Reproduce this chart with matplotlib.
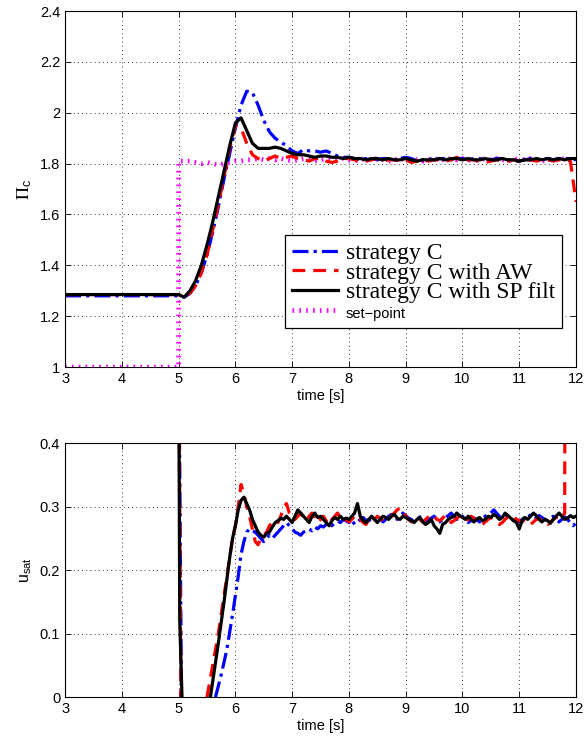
import numpy as np
import matplotlib.pyplot as plt
from matplotlib.lines import Line2D

plt.rcParams['font.family'] = ['Liberation Sans', 'DejaVu Sans']
plt.rcParams['mathtext.fontset'] = 'stix'

# ---------------- top panel: Pi_c ----------------
t_top = np.round(np.concatenate([[3.0, 3.5, 4.0, 4.5], np.arange(5.0, 12.001, 0.1)]), 2)

pi_c = [1.28, 1.28, 1.28, 1.28,
        1.28, 1.275, 1.29, 1.32, 1.37, 1.44, 1.53, 1.63, 1.74, 1.84,
        1.94, 2.03, 2.085, 2.08, 2.03, 1.97, 1.925, 1.90, 1.885, 1.87,
        1.85, 1.84, 1.855, 1.85, 1.85, 1.845, 1.85, 1.84, 1.83, 1.825,
        1.825, 1.82, 1.815, 1.82, 1.82, 1.815, 1.82, 1.82, 1.815, 1.82,
        1.825, 1.82, 1.81, 1.815, 1.82, 1.815, 1.82, 1.82, 1.815, 1.82,
        1.82, 1.815, 1.82, 1.82, 1.815, 1.815, 1.82, 1.82, 1.815, 1.81,
        1.81, 1.815, 1.82, 1.815, 1.82, 1.82, 1.815, 1.82, 1.82, 1.82,
        1.815]

pi_c_aw = [1.285, 1.285, 1.285, 1.285,
           1.285, 1.275, 1.29, 1.32, 1.37, 1.44, 1.54, 1.64, 1.75, 1.86,
           1.95, 1.94, 1.88, 1.835, 1.82, 1.81, 1.82, 1.83, 1.82, 1.825,
           1.83, 1.82, 1.815, 1.81, 1.82, 1.82, 1.81, 1.805, 1.81, 1.82,
           1.82, 1.815, 1.81, 1.81, 1.815, 1.82, 1.81, 1.815, 1.815, 1.81,
           1.815, 1.805, 1.81, 1.815, 1.81, 1.815, 1.815, 1.81, 1.815, 1.825,
           1.82, 1.815, 1.815, 1.81, 1.805, 1.81, 1.815, 1.81, 1.81, 1.815,
           1.81, 1.815, 1.815, 1.81, 1.815, 1.815, 1.81, 1.815, 1.815, 1.81,
           1.65]

pi_c_sp = [1.285, 1.285, 1.285, 1.285,
           1.285, 1.275, 1.30, 1.34, 1.40, 1.48, 1.57, 1.67, 1.77, 1.87,
           1.96, 1.98, 1.93, 1.88, 1.86, 1.86, 1.86, 1.865, 1.86, 1.85,
           1.84, 1.835, 1.835, 1.83, 1.825, 1.83, 1.83, 1.825, 1.825, 1.82,
           1.825, 1.82, 1.82, 1.815, 1.82, 1.82, 1.815, 1.82, 1.815, 1.815,
           1.82, 1.815, 1.81, 1.815, 1.815, 1.815, 1.82, 1.815, 1.82, 1.82,
           1.815, 1.82, 1.815, 1.815, 1.82, 1.815, 1.815, 1.82, 1.815, 1.815,
           1.81, 1.815, 1.815, 1.82, 1.815, 1.82, 1.815, 1.82, 1.815, 1.82,
           1.82]

t_set = np.round(np.concatenate([[3.0, 5.0, 5.0], np.arange(5.1, 12.001, 0.1)]), 2)
setpoint = [1.0, 1.0, 1.81,
            1.81, 1.81, 1.805, 1.80, 1.805, 1.80, 1.795, 1.80, 1.805, 1.81,
            1.81, 1.815, 1.815, 1.82, 1.815, 1.82, 1.815, 1.82, 1.815, 1.81,
            1.815, 1.82, 1.815, 1.81, 1.815, 1.82, 1.815, 1.815, 1.82, 1.815,
            1.81, 1.815, 1.82, 1.815, 1.82, 1.815, 1.81, 1.815, 1.82, 1.815,
            1.82, 1.815, 1.81, 1.815, 1.82, 1.815, 1.815, 1.82, 1.815, 1.82,
            1.815, 1.81, 1.815, 1.82, 1.815, 1.82, 1.815, 1.81, 1.815, 1.82,
            1.815, 1.82, 1.815, 1.81, 1.815, 1.82, 1.815, 1.82, 1.815, 1.815]

# ---------------- bottom panel: u_sat ----------------
# nan marks the stretches that sit on the lower limit and are not seen
t_grid = np.round(np.arange(6.0, 12.001, 0.05), 2)

t_u_pre = [4.99, 5.0, 5.05, 5.3, 5.65, 5.75, 5.85, 5.95]
u_pre = [0.6, 0.6, 0, np.nan, 0, 0.035, 0.075, 0.13]
u_c = [0.16, 0.19, 0.225, 0.245, 0.26, 0.265, 0.262, 0.26, 0.255, 0.25, 0.245, 0.25, 0.255, 0.25, 0.255, 0.26, 0.265, 0.27, 0.275, 0.27,
       0.265, 0.26, 0.258, 0.255, 0.26, 0.262, 0.265, 0.262, 0.268, 0.265, 0.27, 0.268, 0.272, 0.275, 0.27, 0.275, 0.278, 0.275, 0.28, 0.278,
       0.275, 0.28, 0.272, 0.276, 0.28, 0.283, 0.278, 0.28, 0.276, 0.28, 0.284, 0.282, 0.276, 0.28, 0.285, 0.288, 0.283, 0.28, 0.285, 0.29,
       0.286, 0.282, 0.28, 0.276, 0.28, 0.284, 0.278, 0.275, 0.28, 0.282, 0.285, 0.28, 0.276, 0.28, 0.283, 0.286, 0.29, 0.285, 0.28, 0.283,
       0.285, 0.28, 0.275, 0.278, 0.282, 0.28, 0.276, 0.28, 0.285, 0.288, 0.29, 0.295, 0.29, 0.285, 0.28, 0.283, 0.286, 0.282, 0.278, 0.28,
       0.276, 0.28, 0.283, 0.288, 0.285, 0.28, 0.282, 0.286, 0.283, 0.28, 0.278, 0.282, 0.285, 0.28, 0.276, 0.28, 0.284, 0.28, 0.275, 0.27,
       0.275]

t_aw_pre = [4.99, 5.0, 5.04, 5.3, 5.5, 5.6, 5.7, 5.8, 5.9, 5.95]
u_aw_pre = [0.6, 0.6, 0, np.nan, 0, 0.05, 0.1, 0.16, 0.22, 0.25]
u_aw = [0.27, 0.30, 0.335, 0.32, 0.30, 0.285, 0.265, 0.245, 0.24, 0.25, 0.255, 0.26, 0.27, 0.275, 0.28, 0.275, 0.285, 0.30, 0.305, 0.29,
        0.285, 0.28, 0.285, 0.29, 0.282, 0.278, 0.285, 0.29, 0.283, 0.275, 0.28, 0.285, 0.278, 0.272, 0.28, 0.285, 0.29, 0.282, 0.278, 0.28,
        0.276, 0.28, 0.285, 0.278, 0.28, 0.275, 0.272, 0.28, 0.284, 0.28, 0.285, 0.282, 0.278, 0.28, 0.283, 0.286, 0.29, 0.295, 0.298, 0.29,
        0.285, 0.28, 0.276, 0.28, 0.283, 0.28, 0.276, 0.28, 0.284, 0.288, 0.285, 0.28, 0.278, 0.282, 0.286, 0.28, 0.275, 0.278, 0.282, 0.285,
        0.282, 0.278, 0.28, 0.285, 0.282, 0.278, 0.275, 0.272, 0.276, 0.28, 0.283, 0.28, 0.276, 0.272, 0.275, 0.28, 0.284, 0.282, 0.285, 0.28,
        0.278, 0.276, 0.28, 0.275, 0.272, 0.276, 0.28, 0.282, 0.278, 0.275, 0.272, 0.276, 0.28, 0.283, 0.285, 0.282, 0.29]
t_aw_post = [11.81, 12.0]
u_aw_post = [0.8, 0.8]

t_sp_pre = [4.99, 5.0, 5.02, 5.06, 5.3, 5.56, 5.7, 5.8, 5.9, 5.95]
u_sp_pre = [0.6, 0.6, 0.12, 0, np.nan, 0, 0.085, 0.15, 0.22, 0.25]
u_sp = [0.27, 0.295, 0.31, 0.315, 0.305, 0.295, 0.28, 0.27, 0.26, 0.255, 0.252, 0.258, 0.26, 0.268, 0.275, 0.278, 0.282, 0.28, 0.285, 0.28,
        0.275, 0.285, 0.295, 0.29, 0.285, 0.28, 0.275, 0.285, 0.29, 0.283, 0.285, 0.28, 0.275, 0.27, 0.278, 0.283, 0.28, 0.285, 0.28, 0.282,
        0.28, 0.285, 0.29, 0.305, 0.285, 0.278, 0.275, 0.28, 0.285, 0.28, 0.275, 0.28, 0.285, 0.283, 0.28, 0.285, 0.288, 0.282, 0.28, 0.285,
        0.283, 0.28, 0.278, 0.275, 0.28, 0.283, 0.276, 0.272, 0.275, 0.28, 0.27, 0.265, 0.258, 0.272, 0.275, 0.28, 0.283, 0.285, 0.29, 0.286,
        0.283, 0.28, 0.285, 0.28, 0.276, 0.28, 0.283, 0.278, 0.28, 0.285, 0.283, 0.288, 0.285, 0.28, 0.283, 0.29, 0.286, 0.282, 0.278, 0.275,
        0.265, 0.278, 0.283, 0.28, 0.285, 0.29, 0.286, 0.28, 0.276, 0.28, 0.278, 0.274, 0.28, 0.285, 0.29, 0.285, 0.28, 0.282, 0.286, 0.283,
        0.285]

labels = ['strategy C', 'strategy C with AW', 'strategy C with SP filt', 'set\u2212point']

blue_style = dict(color='#0000ff', lw=2.3, linestyle=(0, (5, 1.6, 1, 1.6)))
red_style = dict(color='#ff0000', lw=2.3, linestyle=(0, (4, 2.5)))
black_style = dict(color='black', lw=2.3, linestyle='-')
mag_style = dict(color='#ff00ff', lw=3.4, linestyle=(0, (0.35, 1.1)), dash_capstyle='butt')


def style_axes(ax, yticks, ylabels):
    ax.set_xlim(3, 12)
    ax.set_xticks(range(3, 13))
    ax.set_yticks(yticks)
    ax.set_yticklabels(ylabels)
    ax.tick_params(direction='in', top=True, right=True, labelsize=10.5, length=4, width=0.6)
    ax.grid(True, linestyle=(0, (1, 4)), color='black', lw=0.6)
    for s in ax.spines.values():
        s.set_linewidth(0.8)
    ax.set_xlabel('time [s]', fontsize=10.5, labelpad=2)


fig = plt.figure(figsize=(5.86, 7.4), dpi=100)
ax1 = fig.add_axes([0.111, 0.504, 0.872, 0.481])
ax2 = fig.add_axes([0.111, 0.058, 0.872, 0.343])

ax1.plot(t_set, setpoint, **mag_style)
ax1.plot(t_top, pi_c, **blue_style)
ax1.plot(t_top, pi_c_aw, **red_style)
ax1.plot(t_top, pi_c_sp, **black_style)
ax1.set_ylim(1, 2.4)
style_axes(ax1, [1, 1.2, 1.4, 1.6, 1.8, 2, 2.2, 2.4],
           ['1', '1.2', '1.4', '1.6', '1.8', '2', '2.2', '2.4'])
ax1.set_ylabel(r'$\Pi_\mathregular{c}$', fontsize=13, labelpad=4)

handles = [Line2D([], [], **blue_style), Line2D([], [], **red_style),
           Line2D([], [], **black_style), Line2D([], [], **mag_style)]
leg = ax1.legend(handles, labels, loc='lower right', bbox_to_anchor=(0.973, 0.11),
                 borderaxespad=0, fancybox=False, framealpha=1, edgecolor='black',
                 prop={'family': 'Liberation Serif', 'size': 17},
                 handlelength=1.95, handletextpad=0.35, labelspacing=-0.08, borderpad=0.3)
leg.get_frame().set_linewidth(0.9)
leg.get_texts()[3].set_fontfamily('Liberation Sans')
leg.get_texts()[3].set_fontsize(10.5)

ax2.plot(np.concatenate([t_u_pre, t_grid]), u_pre + u_c, **blue_style)
ax2.plot(np.concatenate([t_aw_pre, t_grid[:len(u_aw)], t_aw_post]), u_aw_pre + u_aw + u_aw_post, **red_style)
ax2.plot(np.concatenate([t_sp_pre, t_grid]), u_sp_pre + u_sp, **black_style)
ax2.set_ylim(0, 0.4)
style_axes(ax2, [0, 0.1, 0.2, 0.3, 0.4], ['0', '0.1', '0.2', '0.3', '0.4'])
ax2.set_ylabel(r'$\mathregular{u_{sat}}$', fontsize=11.5, labelpad=4)

fig.savefig('out.png', dpi=100, facecolor='white')
